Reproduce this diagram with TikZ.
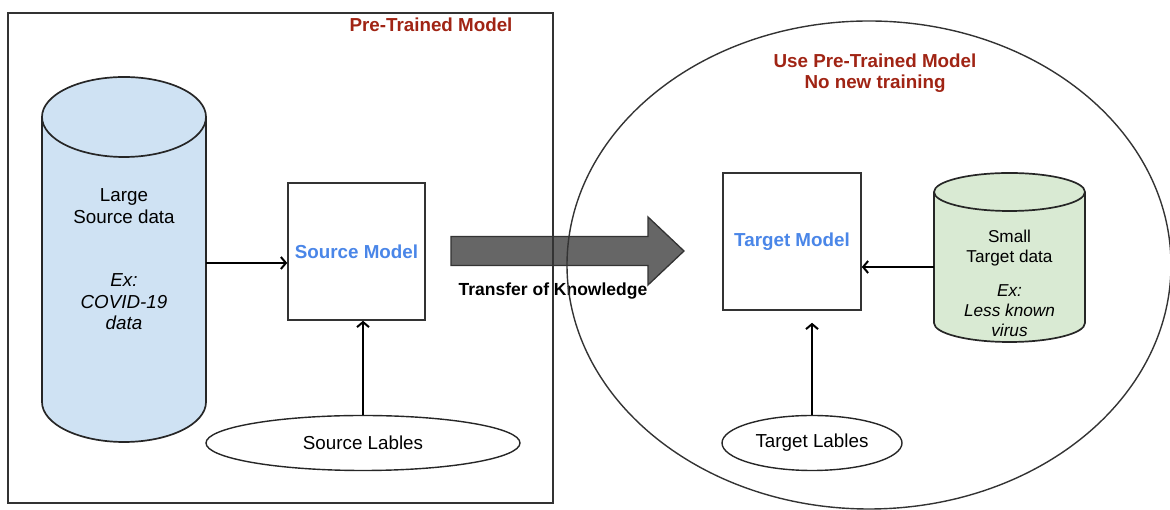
\documentclass[tikz,border=0pt]{standalone}
\usepackage{fontspec}
\setmainfont{Liberation Sans}
\usepackage{tikz}
\usetikzlibrary{shapes.geometric,arrows.meta}

\definecolor{srcblue}{RGB}{207,226,243}
\definecolor{tgtgreen}{RGB}{217,234,211}
\definecolor{titlered}{RGB}{160,36,20}
\definecolor{modelblue}{RGB}{74,134,232}
\definecolor{darkline}{RGB}{51,51,51}

\begin{document}
\begin{tikzpicture}[x=1pt,y=1pt,
	every node/.style={font=\fontsize{18.8}{21.5}\selectfont},
	model/.style={draw=darkline,line width=1.6pt,fill=white,minimum width=137pt,minimum height=137pt,inner sep=0pt,text=modelblue,font=\fontsize{18.8}{21.5}\selectfont\bfseries},
	lables/.style={ellipse,draw=black!85,line width=1.4pt,fill=white,minimum height=55pt,inner sep=0pt},
	cyl/.style={draw=black!85,line width=1.7pt},
	feed/.style={-{Straight Barb[length=5pt,width=12pt]},line width=2pt},
	title/.style={text=titlered,font=\fontsize{18.8}{21.5}\selectfont\bfseries,align=center}]

	\useasboundingbox (0,0) rectangle (1170,510);

	% transfer arrow
	\draw[darkline,line width=1.3pt,fill=black!60] (451,244.5) -- (648,244.5) -- (648,225) -- (684,259) -- (648,293) -- (648,273.5) -- (451,273.5) -- cycle;
	\node[font=\fontsize{17.5}{20}\selectfont\bfseries] (transfer) at (553,219) {Transfer of Knowledge};

	% pre-trained side
	\draw[black!80,line width=1.8pt] (8,7) rectangle (553,497);
	\node[title,anchor=east] (pretitle) at (516,485) {Pre-Trained Model};

	\draw[cyl,fill=srcblue] (42,393) -- (42,108) arc[start angle=180,end angle=360,x radius=82,y radius=40]
		-- (206,393) arc[start angle=0,end angle=180,x radius=82,y radius=40] -- cycle;
	\draw[cyl] (42,393) arc[start angle=180,end angle=360,x radius=82,y radius=40];
	\node[minimum width=164pt,minimum height=365pt,inner sep=0pt,align=center] (bigdata) at (124,250.5)
		{Large\\Source data\\[42pt]\textit{Ex:}\\\textit{COVID-19}\\\textit{data}};

	\node[model] (srcmodel) at (356.5,258.5) {Source Model};
	\node[lables,minimum width=314pt] (srclab) at (363,67) {Source Lables};

	\draw[feed] ([yshift=-3.5pt]bigdata.east) -- ([yshift=-3.5pt]bigdata.east -| srcmodel.west);
	\draw[feed] (srclab.north) -- (srclab.north |- srcmodel.south);

	% target side
	\draw[black!80,line width=1.4pt] (869,245) ellipse [x radius=302,y radius=244];
	\node[title] (usetitle) at (875,437) {Use Pre-Trained Model\\No new training};
	\node[model,minimum width=138pt] (tgtmodel) at (792,268.5) {Target Model};

	\draw[cyl,fill=tgtgreen] (934,318) -- (934,187) arc[start angle=180,end angle=360,x radius=75.5,y radius=19]
		-- (1085,318) arc[start angle=0,end angle=180,x radius=75.5,y radius=19] -- cycle;
	\draw[cyl] (934,318) arc[start angle=180,end angle=360,x radius=75.5,y radius=19];
	\node[minimum width=151pt,minimum height=169pt,inner sep=0pt] (smalldata) at (1009.5,252.5) {};
	\node[align=center,font=\fontsize{17.2}{20}\selectfont] (smalltext) at (1009.5,227)
		{Small\\Target data\\[14pt]\textit{Ex:}\\\textit{Less known}\\\textit{virus}};

	\node[lables,minimum width=180pt] (tgtlab) at (812,67) {Target Lables};

	\draw[feed] ([yshift=-9.5pt]smalldata.west) -- ([yshift=-9.5pt]smalldata.west -| tgtmodel.east);
	\draw[feed,shorten >=12pt] (tgtlab.north) -- (tgtlab.north |- tgtmodel.south);

\end{tikzpicture}
\end{document}
